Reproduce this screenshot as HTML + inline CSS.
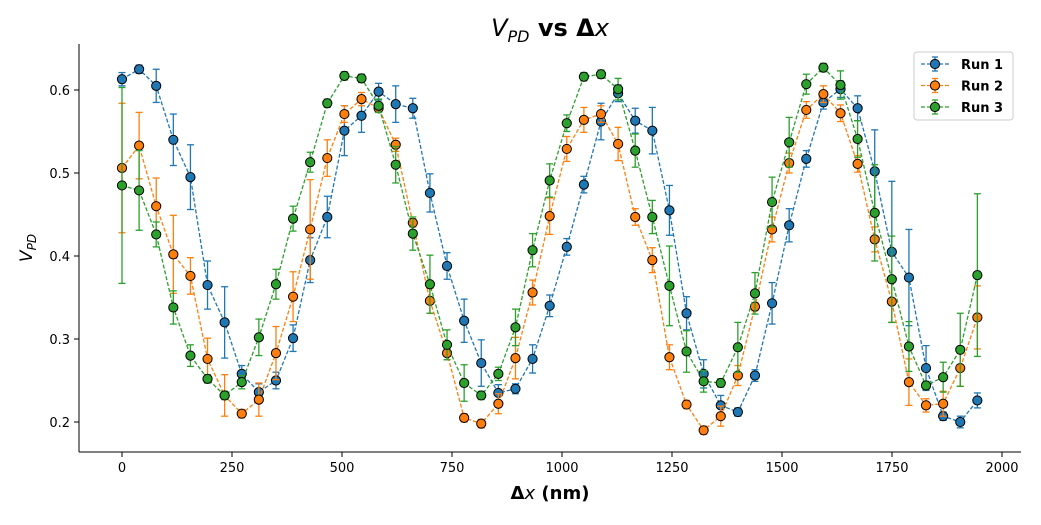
<!DOCTYPE html>
<html><head><meta charset="utf-8"><style>
body{margin:0;background:#fff;font-family:"Liberation Sans","DejaVu Sans",sans-serif;}
svg text{font-family:"DejaVu Sans","Liberation Sans",sans-serif;}
</style></head><body>
<svg id="chart" width="1041" height="520" xmlns="http://www.w3.org/2000/svg">
<rect width="1041" height="520" fill="#fff"/>
<text x="550" y="36" text-anchor="middle" font-size="24" font-weight="bold"><tspan font-style="italic" font-weight="normal">V</tspan><tspan font-size="16" dy="6" font-style="italic" font-weight="normal">PD</tspan><tspan dy="-6"> vs Δ</tspan><tspan font-style="italic" font-weight="normal">x</tspan></text>
<g id="grid"></g>
<g id="series"></g>
<line x1="79" y1="44" x2="79" y2="452" stroke="#000" stroke-width="1"/>
<line x1="79" y1="452" x2="1021" y2="452" stroke="#000" stroke-width="1"/>
<g id="ticks"></g>
<text x="550" y="499" text-anchor="middle" font-size="18" font-weight="bold">Δ<tspan font-style="italic" font-weight="normal">x</tspan> (nm)</text>
<text transform="translate(32,248) rotate(-90)" text-anchor="middle" font-size="17"><tspan font-style="italic">V</tspan><tspan font-size="12" dy="4" font-style="italic">PD</tspan></text>
<g>
<rect x="914" y="52" width="99" height="68" rx="3" fill="#fff" fill-opacity="0.8" stroke="#ccc"/>
<g id="legend"></g>
</g>
</svg>
<script>
const run1=[.613,.625,.605,.540,.495,.365,.320,.258,.236,.250,.301,.395,.447,.551,.569,.598,.583,.578,.476,.388,.322,.271,.235,.240,.276,.340,.411,.486,.562,.596,.563,.551,.455,.331,.258,.220,.212,.256,.343,.437,.517,.585,.601,.578,.502,.405,.374,.265,.207,.200,.226];
const run2=[.506,.533,.460,.402,.376,.276,.232,.210,.227,.283,.351,.432,.518,.571,.589,.578,.534,.440,.346,.283,.205,.198,.222,.277,.356,.448,.529,.564,.571,.535,.447,.395,.278,.221,.190,.207,.256,.339,.432,.512,.576,.595,.572,.511,.420,.345,.248,.220,.222,.265,.326];
const run3=[.485,.479,.426,.338,.280,.252,.232,.248,.302,.366,.445,.513,.584,.617,.614,.581,.510,.427,.366,.293,.247,.232,.258,.314,.407,.491,.560,.616,.619,.601,.527,.447,.364,.285,.249,.247,.290,.355,.465,.537,.607,.627,.606,.541,.452,.372,.291,.244,.254,.287,.377];
const err1=[.008,.005,.02,.031,.039,.029,.043,.01,.01,.01,.016,.027,.025,.03,.02,.01,.022,.012,.023,.016,.026,.028,.01,.006,.017,.013,.01,.01,.022,.01,.015,.028,.03,.02,.017,.012,.005,.007,.025,.02,.01,.008,.01,.015,.05,.085,.058,.027,.005,.007,.009];
const err2=[.078,.04,.034,.047,.022,.025,.025,.005,.02,.032,.03,.06,.022,.01,.008,.005,.008,.005,.015,.008,.005,.005,.012,.025,.015,.022,.015,.015,.01,.02,.01,.015,.015,.005,.005,.012,.012,.005,.015,.012,.01,.01,.01,.01,.015,.025,.028,.008,.015,.022,.038];
const err3=[.118,.048,.015,.02,.013,.005,.005,.008,.022,.018,.015,.012,.005,.005,.005,.008,.022,.02,.035,.018,.022,.005,.008,.022,.02,.02,.01,.005,.005,.013,.02,.02,.048,.025,.013,.005,.03,.025,.03,.03,.012,.005,.017,.022,.058,.052,.03,.005,.018,.044,.098];
const xStep=38.88;
const xTicks=[0,250,500,750,1000,1250,1500,1750,2000];
const yTicks=[0.2,0.3,0.4,0.5,0.6];
const seriesNames=["Run 1","Run 2","Run 3"];
const colors=["#1f77b4","#ff7f0e","#2ca02c"];
const NS="http://www.w3.org/2000/svg";
const X=v=>122+v*0.44;
const Y=v=>90+(0.6-v)*830;
function mk(tag,attrs,parent){const e=document.createElementNS(NS,tag);for(const k in attrs)e.setAttribute(k,attrs[k]);parent.appendChild(e);return e;}
const ticks=document.getElementById('ticks');
xTicks.forEach(t=>{
  const l=mk('line',{x1:X(t),x2:X(t),y1:452,y2:457,stroke:'#000'},ticks);
  
  
  const tx=mk('text',{x:X(t),y:472,'text-anchor':'middle','font-size':13},ticks);tx.textContent=t;
  
  
});
yTicks.forEach(t=>{
  const l=mk('line',{x1:74,x2:79,y1:Y(t),y2:Y(t),stroke:'#000'},ticks);
  
  
  const tx=mk('text',{x:70,y:Y(t)+5,'text-anchor':'end','font-size':13},ticks);tx.textContent=t.toFixed(1);
  
  
});
const sg=document.getElementById('series');
[[run1,err1],[run2,err2],[run3,err3]].forEach(([d,e],si)=>{
  const g=mk('g',{},sg);
  
  
  const c=colors[si];
  d.forEach((v,i)=>{
    const x=X(i*xStep);
    mk('line',{x1:x,x2:x,y1:Y(v-e[i]),y2:Y(v+e[i]),stroke:c,'stroke-width':1.3},g);
    mk('line',{x1:x-3.5,x2:x+3.5,y1:Y(v-e[i]),y2:Y(v-e[i]),stroke:c,'stroke-width':1.3},g);
    mk('line',{x1:x-3.5,x2:x+3.5,y1:Y(v+e[i]),y2:Y(v+e[i]),stroke:c,'stroke-width':1.3},g);
  });
  const pts=d.map((v,i)=>X(i*xStep)+','+Y(v)).join(' ');
  mk('polyline',{points:pts,fill:'none',stroke:c,'stroke-width':1.3,'stroke-dasharray':'4,2'},g);
  d.forEach((v,i)=>{
    const p=mk('circle',{cx:X(i*xStep),cy:Y(v),r:4.6,fill:c,stroke:'#000','stroke-width':1},g);
    
    
  });
});
const lg=document.getElementById('legend');
seriesNames.forEach((n,i)=>{
  const y=64+i*21.5,c=colors[i];
  const g=mk('g',{},lg);
  
  
  mk('line',{x1:921,x2:949,y1:y,y2:y,stroke:c,'stroke-width':1.3,'stroke-dasharray':'4,2'},g);
  mk('line',{x1:935,x2:935,y1:y-7,y2:y+7,stroke:c,'stroke-width':1.3},g);
  mk('line',{x1:932,x2:938,y1:y-7,y2:y-7,stroke:c,'stroke-width':1.3},g);
  mk('line',{x1:932,x2:938,y1:y+7,y2:y+7,stroke:c,'stroke-width':1.3},g);
  mk('circle',{cx:935,cy:y,r:4.6,fill:c,stroke:'#000'},g);
  const t=mk('text',{x:961,y:y+5,'font-size':13,'font-weight':'bold'},g);t.textContent=n;
});
</script>
</body></html>
